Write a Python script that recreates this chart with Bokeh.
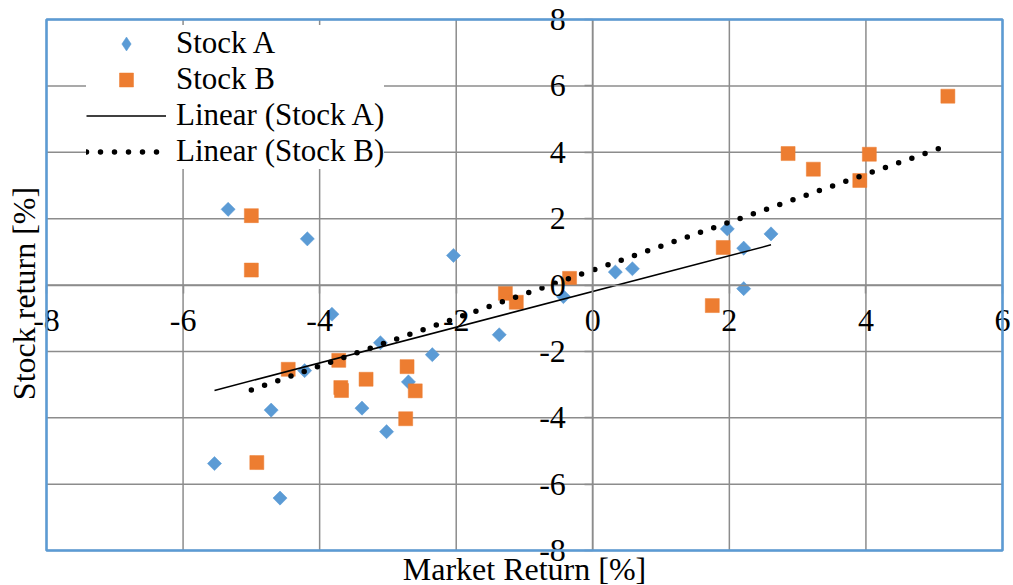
import numpy as np
from bokeh.plotting import figure
from bokeh.models import (Range1d, LinearAxis, FixedTicker, Legend, LegendItem,
                          ColumnDataSource, BoxAnnotation, Label, Grid)
from bokeh.embed import file_html
from bokeh.resources import INLINE

# ---- data ----
stock_a_x = [-5.34, -4.18, -2.04, -3.82, -3.11, -1.37, -2.35, -4.22, -2.70, -3.38, -4.71,
             -3.02, -5.54, -4.58, -0.43, 0.33, 0.58, 1.97, 2.21, 2.21, 2.61]
stock_a_y = [2.28, 1.39, 0.89, -0.88, -1.74, -1.50, -2.10, -2.58, -2.92, -3.71, -3.77,
             -4.42, -5.38, -6.42, -0.35, 0.39, 0.49, 1.69, 1.11, -0.11, 1.54]

stock_b_x = [-5.00, -5.00, -4.46, -3.72, -3.69, -3.68, -3.32, -2.72, -2.60, -2.74, -4.92,
             -1.28, -1.12, -0.34, 1.75, 1.91, 2.86, 3.23, 3.91, 4.05, 5.20]
stock_b_y = [2.09, 0.45, -2.54, -2.27, -3.09, -3.18, -2.84, -2.46, -3.19, -4.03, -5.35,
             -0.25, -0.52, 0.20, -0.62, 1.13, 3.96, 3.49, 3.15, 3.94, 5.69]

x_ticks = [-8, -6, -4, -2, 0, 2, 4, 6]
y_ticks = [-8, -6, -4, -2, 0, 2, 4, 6, 8]
series_labels = ["Stock A", "Stock B"]
trend_labels = ["Linear (Stock A)", "Linear (Stock B)"]
x_title = "Market Return [%]"
y_title = "Stock return [%]"

BLUE = "#5B9BD5"
ORANGE = "#ED7D31"
GRID = "#8C8C8C"
FONT = "Liberation Serif"

W, H = 1013, 585
# plot-area placement in pixels (left, right, top, bottom)
PL, PR, PT, PB = 46, 1002, 19, 550

xmin, xmax = min(x_ticks), max(x_ticks)
ymin, ymax = min(y_ticks), max(y_ticks)
xpx = (PR - PL) / (xmax - xmin)
ypx = (PB - PT) / (ymax - ymin)
x0 = xmin - PL / xpx
x1 = xmax + (W - PR) / xpx
y1 = ymax + PT / ypx
y0 = ymin - (H - PB) / ypx

p = figure(width=W, height=H, x_range=Range1d(x0, x1), y_range=Range1d(y0, y1),
           output_backend="svg", toolbar_location=None,
           x_axis_location=None, y_axis_location=None,
           min_border=0, background_fill_color="white", border_fill_color="white")
p.outline_line_color = None
# drop the default full-width grids
p.center = [r for r in p.center if not isinstance(r, Grid)]

# gridlines limited to the plot area
p.segment(x0=x_ticks, y0=[ymin] * len(x_ticks), x1=x_ticks, y1=[ymax] * len(x_ticks),
          line_color=GRID, line_width=1.5)
p.segment(x0=[xmin] * len(y_ticks), y0=y_ticks, x1=[xmax] * len(y_ticks), y1=y_ticks,
          line_color=GRID, line_width=1.5)

# axes crossing at zero
xa = LinearAxis(fixed_location=0, ticker=FixedTicker(ticks=x_ticks), bounds=(xmin, xmax),
                major_label_overrides={t: str(t) for t in x_ticks})
ya = LinearAxis(fixed_location=0, ticker=FixedTicker(ticks=y_ticks), bounds=(ymin, ymax),
                major_label_overrides={t: str(t) for t in y_ticks})
for ax, so in ((xa, 17), (ya, 19)):
    ax.axis_line_color = GRID
    ax.axis_line_width = 1.5
    ax.major_tick_line_color = GRID
    ax.major_tick_line_width = 1.5
    ax.major_tick_out = 8
    ax.major_tick_in = 0
    ax.minor_tick_line_color = None
    ax.major_label_text_font = FONT
    ax.major_label_text_font_size = "32px"
    ax.major_label_text_color = "black"
    ax.major_label_standoff = so
p.add_layout(xa, "below")
p.add_layout(ya, "left")

# axis titles
p.add_layout(Label(x=(xmin + xmax) / 2, y=y1 - 568 / ypx, text=x_title,
                   text_align="center", text_baseline="middle",
                   text_font=FONT, text_font_size="32px", text_color="black"))
p.add_layout(Label(x=x0 + 23 / xpx, y=y1 - 293 / ypx, text=y_title,
                   angle=np.pi / 2, text_align="center", text_baseline="middle",
                   text_font=FONT, text_font_size="32px", text_color="black"))

# scatter series
src_a = ColumnDataSource(dict(x=stock_a_x, y=stock_a_y))
src_b = ColumnDataSource(dict(x=stock_b_x, y=stock_b_y))
ra = p.scatter("x", "y", source=src_a, marker="square", angle=np.pi / 4, size=10,
               fill_color=BLUE, line_color=BLUE, line_width=0.5)
rb = p.scatter("x", "y", source=src_b, marker="square", size=14,
               fill_color=ORANGE, line_color=ORANGE, line_width=0.5)
# legend key for Stock A (diamond shape), not drawn in the plot itself
ra_key = p.scatter("x", "y", source=src_a, marker="diamond", size=14,
                   fill_color=BLUE, line_color=BLUE, line_width=0.5, visible=False)

# linear trend lines, fitted from the data
def trend(xs, ys):
    k, b = np.polyfit(xs, ys, 1)
    xe = [min(xs), max(xs)]
    return xe, [k * v + b for v in xe]

tax, tay = trend(stock_a_x, stock_a_y)
tbx, tby = trend(stock_b_x, stock_b_y)
rta = p.line(tax, tay, line_color="black", line_width=1.5)
rtb = p.line(tbx, tby, line_color="black", line_width=5.5, line_dash="0 14",
             line_cap="round")

# plot-area border
p.add_layout(BoxAnnotation(left=xmin, right=xmax, bottom=ymin, top=ymax,
                           fill_alpha=0, fill_color=None, line_color=BLUE,
                           line_alpha=1.0, line_width=2.5))

legend = Legend(items=[LegendItem(label=series_labels[0], renderers=[ra_key]),
                       LegendItem(label=series_labels[1], renderers=[rb]),
                       LegendItem(label=trend_labels[0], renderers=[rta]),
                       LegendItem(label=trend_labels[1], renderers=[rtb])],
                location=(86, H - 169),
                label_text_font=FONT, label_text_font_size="31px",
                label_text_color="black",
                glyph_width=80, glyph_height=35, label_height=35,
                spacing=0, padding=0, margin=0, label_standoff=10,
                border_line_color=None, background_fill_color="white",
                background_fill_alpha=1.0, inactive_fill_alpha=0.0)
p.add_layout(legend, "center")

open("out.html", "w").write(file_html(p, INLINE))
